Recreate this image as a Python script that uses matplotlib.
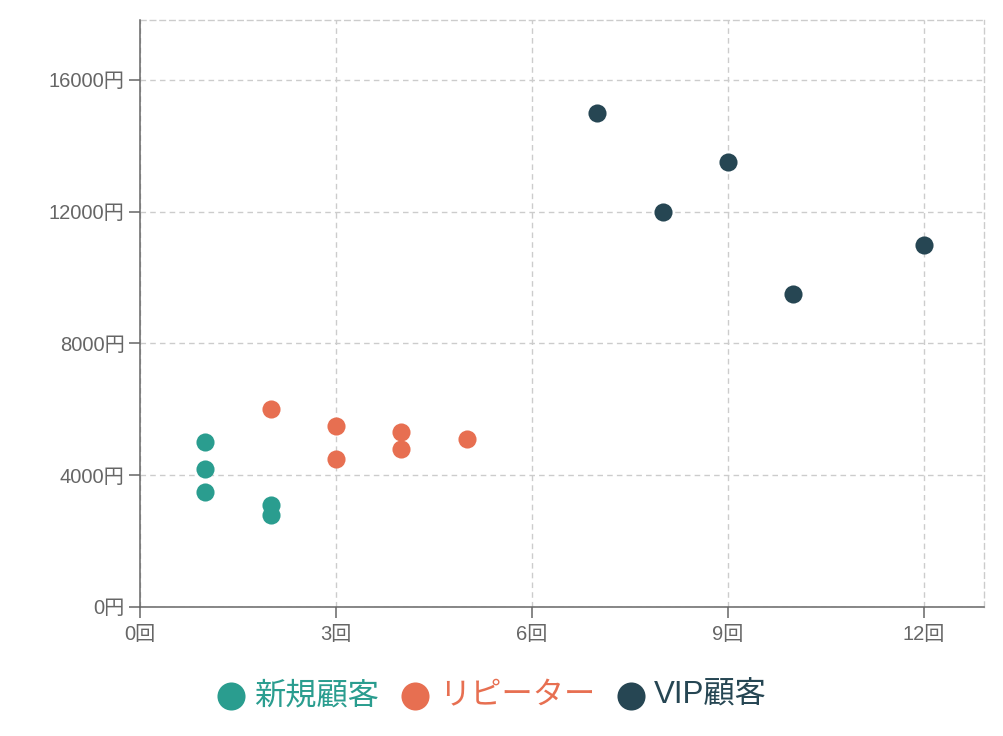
import matplotlib
matplotlib.use('Agg')
import matplotlib.pyplot as plt

plt.rcParams['font.family'] = ['Liberation Sans', 'Noto Sans CJK JP']

# visits (回) vs spend (円)
new_visits = [1, 1, 1, 2, 2]
new_spend = [5000, 4200, 3500, 3100, 2800]
rep_visits = [2, 3, 3, 4, 4, 5]
rep_spend = [6000, 5500, 4500, 5300, 4800, 5100]
vip_visits = [7, 8, 9, 10, 12]
vip_spend = [15000, 12000, 13500, 9500, 11000]

series_names = ['新規顧客', 'リピーター', 'VIP顧客']
series_colors = ['#2a9d8f', '#e76f51', '#264653']

x_ticks = [0, 3, 6, 9, 12]
y_ticks = [0, 4000, 8000, 12000, 16000]

axis_col = '#666666'
grid_col = '#cccccc'

fig = plt.figure(figsize=(10.04, 7.36), dpi=100, facecolor='w')
ax = fig.add_axes([140/1004, 129/736, 844/1004, 587/736])

data = [(new_visits, new_spend), (rep_visits, rep_spend), (vip_visits, vip_spend)]
for (xs, ys), name, col in zip(data, series_names, series_colors):
    ax.scatter(xs, ys, s=170, color=col, label=name, linewidths=0, zorder=3)

ax.set_xlim(0, 12.92)
ax.set_ylim(0, 17820)
ax.set_xticks(x_ticks)
ax.set_yticks(y_ticks)
ax.set_xticklabels(['%d回' % v for v in x_ticks])
ax.set_yticklabels(['%d円' % v for v in y_ticks])

ax.grid(True, color=grid_col, linestyle=(0, (4, 3)), linewidth=1, zorder=0)
for side in ['top', 'right']:
    ax.spines[side].set_color(grid_col)
    ax.spines[side].set_linestyle((0, (4, 3)))
    ax.spines[side].set_linewidth(1)
for side in ['left', 'bottom']:
    ax.spines[side].set_color(axis_col)
    ax.spines[side].set_linewidth(1.1)
    ax.spines[side].set_zorder(4)

ax.tick_params(axis='both', colors=axis_col, labelcolor=axis_col, labelsize=14.5,
               length=8, width=1.1, direction='out')
ax.tick_params(axis='y', pad=3)
ax.tick_params(axis='x', pad=5)

leg = fig.legend(loc='center', bbox_to_anchor=(0.49, 1 - 696/736), ncol=3, frameon=False,
                 fontsize=22.5, markerscale=1.55, handlelength=0.9, handletextpad=0.3,
                 columnspacing=0.7, labelcolor=series_colors)

plt.savefig('out.png', dpi=100, facecolor='w')
